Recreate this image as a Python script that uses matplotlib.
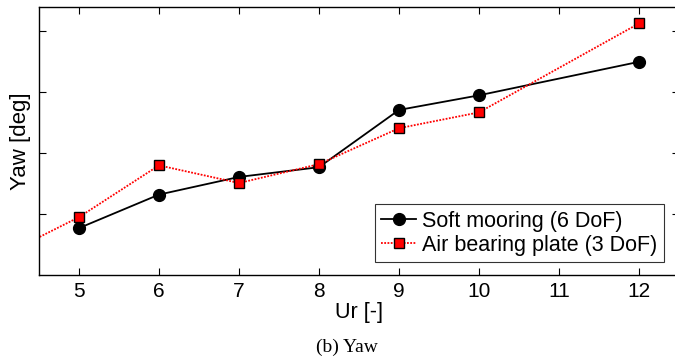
import numpy as np
import matplotlib.pyplot as plt

# reduced velocity
ur_soft = [5, 6, 7, 8, 9, 10, 12]
yaw_soft = [0.77, 1.32, 1.61, 1.77, 2.71, 2.95, 3.50]

# air bearing series runs in from Ur = 4 (off the left edge)
ur_air = [4, 5, 6, 7, 8, 9, 10, 12]
yaw_air = [0.29, 0.95, 1.80, 1.51, 1.82, 2.41, 2.67, 4.13]

xticks = [5, 6, 7, 8, 9, 10, 11, 12]
yticks = [1, 2, 3, 4]

plt.rcParams['font.family'] = ['Liberation Sans', 'DejaVu Sans']

fig = plt.figure(figsize=(6.75, 3.6), dpi=100)
ax = fig.add_axes([39 / 675, 1 - 275 / 360, 640 / 675, 268 / 360])

ax.plot(ur_soft, yaw_soft, '-', color='black', lw=1.3,
        marker='o', ms=8.5, mfc='black', mec='black',
        label='Soft mooring (6 DoF)')
ax.plot(ur_air, yaw_air, color='red', lw=1.3, dashes=(1, 0.8),
        marker='s', ms=6.5, mfc='red', mec='black', mew=1.0,
        label='Air bearing plate (3 DoF)')

ax.set_xlim(4.5, 12.5)
ax.set_ylim(0, 4.4)
ax.set_xticks(xticks)
ax.set_yticks(yticks)
ax.set_yticklabels([])
ax.tick_params(direction='in', top=True, right=True, length=5,
               labelsize=15, pad=5)
for s in ax.spines.values():
    s.set_linewidth(1.0)

ax.set_xlabel('Ur [-]', fontsize=15.5, labelpad=1)
ax.set_ylabel('Yaw [deg]', fontsize=16, labelpad=1)

leg = ax.legend(loc='lower right', bbox_to_anchor=(625 / 640, 13 / 268),
                fontsize=15.5, frameon=True, fancybox=False,
                handlelength=1.6, handletextpad=0.3, borderpad=0.3,
                labelspacing=0.12, borderaxespad=0)
leg.get_frame().set_edgecolor('black')
leg.get_frame().set_linewidth(0.8)

fig.text(347 / 675, 1 - 347 / 360, '(b) Yaw', ha='center', va='center',
         fontsize=14, family='Liberation Serif')

fig.savefig('out.png', dpi=100)
